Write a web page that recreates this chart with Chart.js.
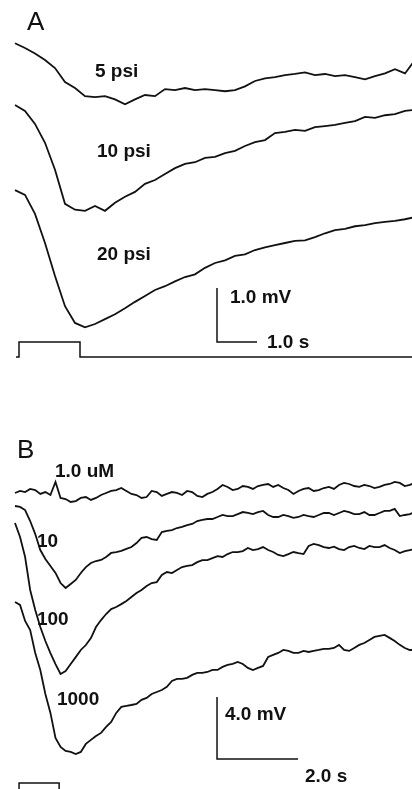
<!DOCTYPE html>
<html>
<head>
<meta charset="utf-8">
<script src="https://cdn.jsdelivr.net/npm/chart.js@4.4.0/dist/chart.umd.min.js"></script>
<style>
  html, body { margin: 0; padding: 0; background: #fff; }
  #wrap { position: relative; width: 412px; height: 789px; overflow: hidden; }
  canvas { position: absolute; left: 0; }
</style>
</head>
<body>
<div id="wrap">
  <canvas id="panelA" width="412" height="380" style="top:0"></canvas>
  <canvas id="panelB" width="412" height="409" style="top:380px"></canvas>
</div>
<script>
// sample spacing of the traces (s)
const stepA = 0.25;
const stepB = 0.125;

// panel A: depolarisation (mV from rest) vs puff pressure
const psi5 = [0, -0.09, -0.19, -0.31, -0.46, -0.72, -0.83, -0.98, -1.00, -0.98,
  -1.04, -1.13, -1.04, -0.96, -0.98, -0.85, -0.87, -0.83, -0.87, -0.85,
  -0.87, -0.89, -0.87, -0.80, -0.70, -0.65, -0.63, -0.59, -0.57, -0.54,
  -0.59, -0.57, -0.61, -0.59, -0.63, -0.67, -0.61, -0.56, -0.48, -0.56, -0.31];
const psi10 = [0, -0.11, -0.35, -0.70, -1.20, -1.83, -1.94, -1.96, -1.87, -1.96,
  -1.81, -1.70, -1.61, -1.46, -1.39, -1.28, -1.17, -1.09, -1.06, -0.98,
  -0.96, -0.89, -0.85, -0.76, -0.69, -0.65, -0.52, -0.50, -0.46, -0.48,
  -0.41, -0.39, -0.37, -0.33, -0.30, -0.22, -0.24, -0.19, -0.17, -0.11, -0.09];
const psi20 = [0, -0.09, -0.44, -0.98, -1.59, -2.15, -2.46, -2.54, -2.48, -2.39,
  -2.30, -2.19, -2.07, -1.96, -1.85, -1.78, -1.69, -1.61, -1.56, -1.44,
  -1.35, -1.30, -1.22, -1.19, -1.11, -1.06, -1.02, -0.98, -0.94, -0.93,
  -0.87, -0.80, -0.74, -0.72, -0.67, -0.65, -0.61, -0.59, -0.57, -0.54, -0.50];
const psiLabels = ['5 psi', '10 psi', '20 psi'];

// panel B: depolarisation (mV from rest) vs concentration
const uM1 = [0, 0.13, 0.06, 0.26, 0.19, -0.06, 0.06, -0.13, 0.71, -0.32,
  -0.39, -0.58, -0.52, -0.32, -0.26, -0.45, -0.32, -0.13, 0, 0.13,
  0.19, 0.32, 0.13, -0.06, -0.13, -0.32, -0.26, 0.13, 0.06, -0.19,
  -0.06, 0.06, 0, -0.13, 0.13, 0.06, -0.19, -0.26, -0.06, 0.06,
  0.26, 0.52, 0.39, 0.19, 0.26, 0.45, 0.39, 0.26, 0.45, 0.52,
  0.58, 0.39, 0.52, 0.32, 0.19, -0.06, 0.13, 0.26, 0.32, 0.13,
  0.19, 0.32, 0.39, 0.26, 0.52, 0.65, 0.58, 0.45, 0.39, 0.52,
  0.45, 0.32, 0.39, 0.52, 0.58, 0.71, 0.65, 0.45, 0.52, 0.65, 0.58];
const uM10 = [0, -0.06, -0.26, -0.97, -1.81, -2.84, -3.42, -3.87, -4.32, -4.97,
  -5.29, -5.03, -4.77, -4.32, -3.94, -3.68, -3.55, -3.48, -3.29, -3.03,
  -2.97, -2.90, -2.77, -2.65, -2.39, -2.06, -2.00, -2.13, -2.19, -1.68,
  -1.61, -1.55, -1.42, -1.35, -1.23, -1.16, -0.97, -0.90, -0.84, -0.84,
  -0.71, -0.58, -0.65, -0.65, -0.52, -0.39, -0.45, -0.52, -0.39, -0.32,
  -0.58, -0.71, -0.71, -0.58, -0.65, -0.77, -0.71, -0.58, -0.65, -0.71,
  -0.58, -0.45, -0.45, -0.58, -0.45, -0.32, -0.39, -0.52, -0.52, -0.39,
  -0.58, -0.58, -0.45, -0.32, -0.32, -0.19, -0.65, -0.58, -0.52, -0.39, -0.45];
const uM100 = [0, -0.90, -2.19, -4.32, -5.61, -6.71, -7.61, -8.39, -9.10, -9.74,
  -9.55, -9.10, -8.65, -8.19, -7.87, -7.42, -6.71, -6.26, -5.87, -5.55,
  -5.42, -5.23, -5.03, -4.77, -4.52, -4.32, -4.06, -3.87, -3.81, -3.35,
  -3.16, -3.23, -3.03, -2.84, -2.77, -2.71, -2.52, -2.39, -2.39, -2.26,
  -2.13, -2.19, -2.00, -1.87, -1.87, -1.81, -1.61, -1.74, -1.68, -1.55,
  -1.74, -1.87, -2.06, -2.13, -2.00, -1.87, -1.94, -2.00, -1.48, -1.35,
  -1.42, -1.55, -1.61, -1.52, -1.68, -1.74, -1.55, -1.48, -1.61, -1.68,
  -1.48, -1.55, -1.55, -1.42, -1.61, -1.74, -1.94, -1.81, -1.74, -1.68, -1.81];
const uM1000 = [0, -0.19, -1.23, -1.81, -3.29, -4.39, -5.94, -7.16, -8.77, -9.35,
  -9.61, -9.68, -9.81, -9.68, -9.16, -8.90, -8.65, -8.45, -8.06, -7.74,
  -7.16, -6.77, -6.71, -6.65, -6.58, -6.32, -6.19, -5.94, -5.81, -5.68,
  -5.48, -5.10, -4.97, -4.97, -4.90, -4.71, -4.58, -4.58, -4.52, -4.39,
  -4.39, -4.19, -4.06, -4.00, -3.87, -4.00, -4.26, -4.39, -4.26, -4.13,
  -3.55, -3.42, -3.29, -3.10, -3.16, -3.29, -3.29, -3.16, -3.23, -3.16,
  -3.10, -3.03, -3.03, -2.97, -2.77, -3.10, -3.16, -2.97, -2.77, -2.65,
  -2.45, -2.26, -2.19, -2.13, -2.32, -2.52, -2.77, -2.97, -3.10, -3.10, -3.16];
const concLabels = ['1.0 uM', '10', '100', '1000'];

// stimulus timing (s) and scale bars
const stimA = [0.1, 1.625];
const stimB = [0.1, 1.09];
const barA = { mV: 1.0, s: 1.0 };
const barB = { mV: 4.0, s: 2.0 };

// layout (figure units: s along x, mV along y)
const layoutA = {
  step: stepA,
  xMin: -0.375, xMax: 9.925, yMin: -7.037, yMax: 0,
  offsets: [-0.80, -1.944, -3.52],
  stimBase: -6.611, stimTop: -6.333, stimStart: 0.025,
  barX: 5.05, barY: -6.333,
  labelPos: [[2.0, -1.426], [2.05, -2.907], [2.05, -4.815]],
  title: ['A', 0.3, -0.556],
  barLabels: [['1.0 mV', 5.375, -5.611], ['1.0 s', 6.3, -6.444]]
};
const layoutB = {
  step: stepB,
  xMin: -0.370, xMax: 9.802, yMin: -26.39, yMax: 0,
  offsets: [-7.29, -8.13, -9.23, -14.32],
  stimBase: -28, stimTop: -26.0,
  barX: 4.988, barY: -24.45,
  labelPos: [[0.988, -6.26], [0.543, -10.77], [0.543, -15.81], [1.037, -20.97]],
  title: ['B', 0.049, -5.03],
  barLabels: [['4.0 mV', 5.185, -21.94], ['2.0 s', 7.16, -25.94]]
};

const ink = '#111';
const lineW = 1.8;
const labelFont = 'bold 19px "Liberation Sans", Arial, sans-serif';
const titleFont = '26px "Liberation Sans", Arial, sans-serif';

function trace(values, offset, dt) {
  return {
    data: values.map((v, i) => ({ x: i * dt, y: v + offset })),
    borderColor: ink, borderWidth: lineW, pointRadius: 0, tension: 0
  };
}

function lineSet(points) {
  return {
    data: points.map(p => ({ x: p[0], y: p[1] })),
    borderColor: ink, borderWidth: 1.5, pointRadius: 0, tension: 0
  };
}

const textPlugin = {
  id: 'panelText',
  afterDatasetsDraw(chart, args, opts) {
    const ctx = chart.ctx;
    const xs = chart.scales.x, ys = chart.scales.y;
    ctx.save();
    ctx.fillStyle = ink;
    ctx.textAlign = 'left';
    ctx.textBaseline = 'alphabetic';
    ctx.font = titleFont;
    const t = opts.title;
    ctx.fillText(t[0], xs.getPixelForValue(t[1]), ys.getPixelForValue(t[2]));
    ctx.font = labelFont;
    opts.items.forEach(it => {
      ctx.fillText(it[0], xs.getPixelForValue(it[1]), ys.getPixelForValue(it[2]));
    });
    ctx.restore();
  }
};

function makePanel(id, lay, traces, names, bar, stimPoints) {
  const datasets = traces.map((v, i) => trace(v, lay.offsets[i], lay.step));
  datasets.push(lineSet(stimPoints));
  // scale bar: vertical (mV) then horizontal (s)
  datasets.push(lineSet([
    [lay.barX, lay.barY + bar.mV],
    [lay.barX, lay.barY],
    [lay.barX + bar.s, lay.barY]
  ]));
  const items = names.map((n, i) => [n, lay.labelPos[i][0], lay.labelPos[i][1]]);
  lay.barLabels.forEach(b => items.push(b));
  return new Chart(document.getElementById(id), {
    type: 'line',
    data: { datasets: datasets },
    options: {
      responsive: false,
      animation: false,
      devicePixelRatio: 1,
      layout: { padding: 0 },
      scales: {
        x: { type: 'linear', display: false, min: lay.xMin, max: lay.xMax },
        y: { type: 'linear', display: false, min: lay.yMin, max: lay.yMax }
      },
      plugins: {
        legend: { display: false },
        tooltip: { enabled: false },
        panelText: { title: lay.title, items: items }
      }
    },
    plugins: [textPlugin]
  });
}

makePanel('panelA', layoutA, [psi5, psi10, psi20], psiLabels, barA, [
  [layoutA.stimStart, layoutA.stimBase],
  [stimA[0], layoutA.stimBase],
  [stimA[0], layoutA.stimTop],
  [stimA[1], layoutA.stimTop],
  [stimA[1], layoutA.stimBase],
  [layoutA.xMax + 1, layoutA.stimBase]
]);

makePanel('panelB', layoutB, [uM1, uM10, uM100, uM1000], concLabels, barB, [
  [stimB[0], layoutB.stimBase],
  [stimB[0], layoutB.stimTop],
  [stimB[1], layoutB.stimTop],
  [stimB[1], layoutB.stimBase]
]);
</script>
</body>
</html>
